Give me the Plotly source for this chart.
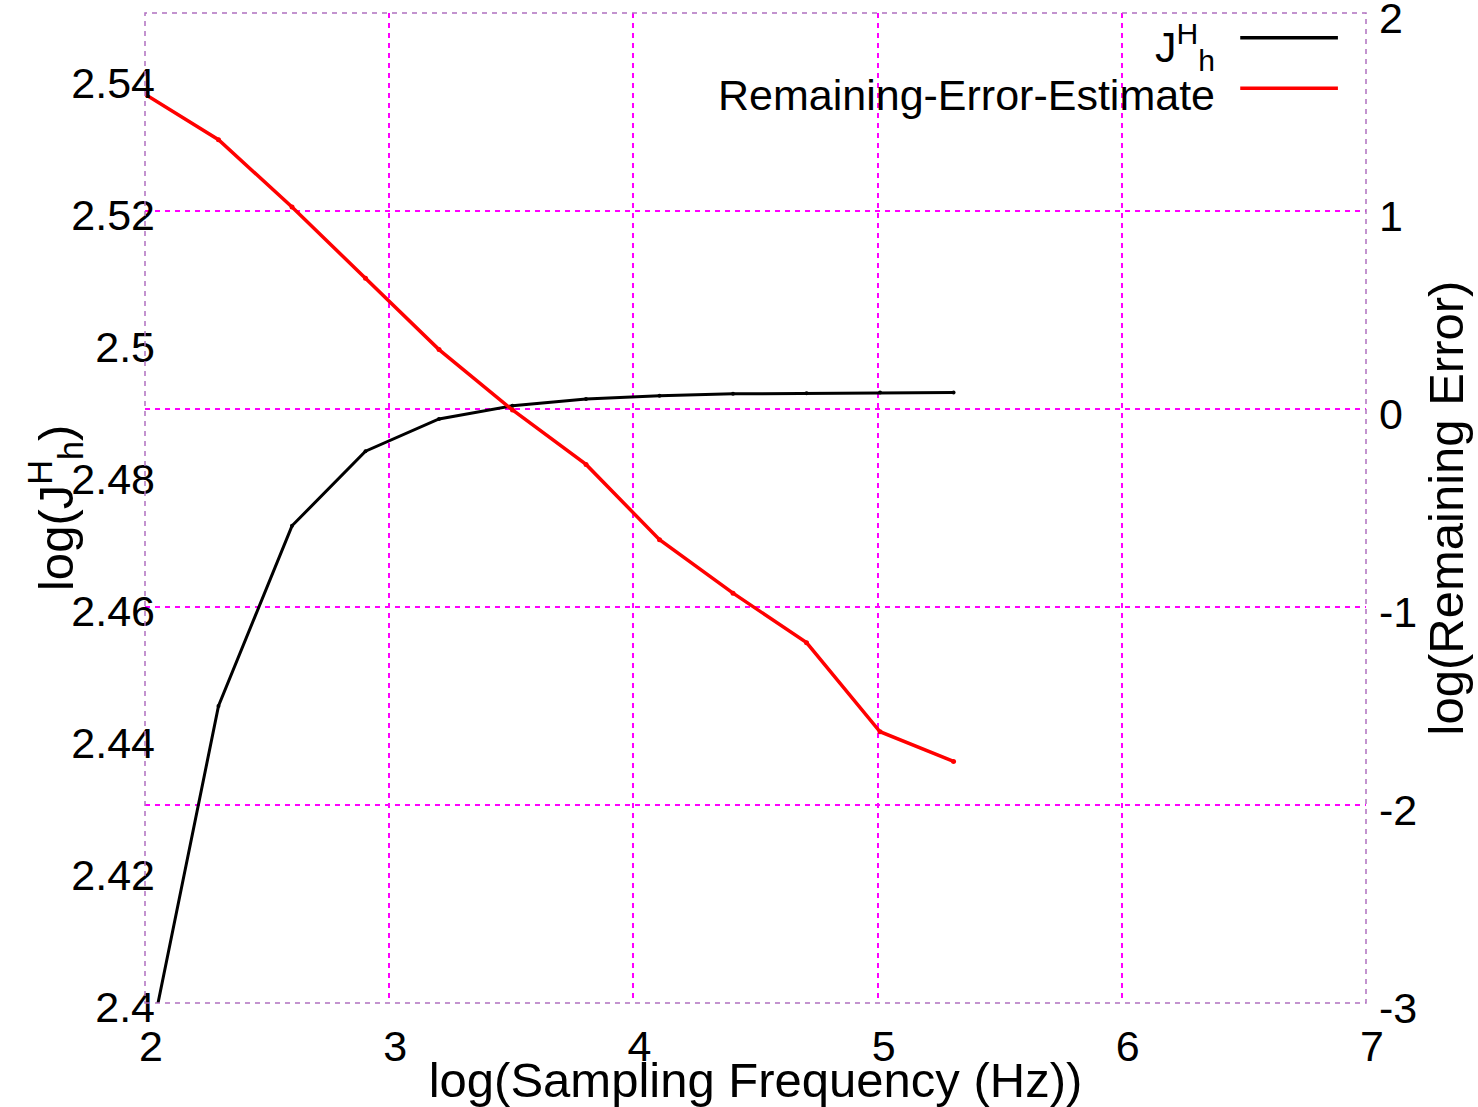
import plotly.graph_objects as go

# Data
log_freq = [2.0, 2.301, 2.602, 2.903, 3.204, 3.505, 3.806, 4.107, 4.408, 4.709, 5.010, 5.311]
log_J = [2.3903, 2.4450, 2.4723, 2.4836, 2.4885, 2.4905, 2.4915, 2.4920, 2.4923, 2.4924, 2.4925, 2.4925]
log_err = [1.59, 1.36, 1.02, 0.66, 0.30, -0.005, -0.28, -0.66, -0.93, -1.18, -1.63, -1.78]

x_ticks = [2, 3, 4, 5, 6, 7]
x_ticklabels = ["2", "3", "4", "5", "6", "7"]
yl_ticks = [2.40, 2.42, 2.44, 2.46, 2.48, 2.50, 2.52, 2.54]
yl_ticklabels = ["2.4", "2.42", "2.44", "2.46", "2.48", "2.5", "2.52", "2.54"]
yr_ticks = [-3, -2, -1, 0, 1, 2]
yr_ticklabels = ["-3", "-2", "-1", "0", "1", "2"]

FONT = "Liberation Sans, Arial, sans-serif"
FS = 43
FT = 49
GRID = "#ff00ff"

fig = go.Figure()
fig.add_trace(go.Scatter(x=log_freq, y=log_J, mode="lines+markers",
                         line=dict(color="black", width=3),
                         marker=dict(color="black", size=4),
                         name="J<sup>H</sup><sub>h</sub>", yaxis="y", showlegend=False))
fig.add_trace(go.Scatter(x=log_freq, y=log_err, mode="lines+markers",
                         line=dict(color="#ff0000", width=3.5),
                         marker=dict(color="#ff0000", size=5),
                         name="Remaining-Error-Estimate", yaxis="y2", showlegend=False))

fig.update_layout(
    width=1478, height=1107,
    margin=dict(l=145, r=112, t=13, b=104, autoexpand=False),
    paper_bgcolor="white", plot_bgcolor="white",
    font=dict(family=FONT, size=FS, color="black"),
    xaxis=dict(range=[2, 7], tickvals=x_ticks, ticktext=x_ticklabels,
               showgrid=True, gridcolor=GRID, griddash="5px,5px", gridwidth=1.5,
               zeroline=False, showline=False, ticks="", automargin=False,
               ticklabelshift=6, ticklabelstandoff=14,
               title=dict(text="log(Sampling Frequency (Hz))", standoff=0,
                          font=dict(size=FT))),
    yaxis=dict(range=[2.4, 2.55], tickvals=yl_ticks, ticktext=yl_ticklabels,
               showgrid=False, zeroline=False, showline=False, ticks="", automargin=False,
               ticklabelstandoff=-11, ticklabelshift=4),
    yaxis2=dict(range=[-3, 2], tickvals=yr_ticks, ticktext=yr_ticklabels,
                overlaying="y", side="right", automargin=False,
                showgrid=True, gridcolor=GRID, griddash="5px,5px", gridwidth=1.5,
                zeroline=False, showline=False, ticks="",
                ticklabelstandoff=12, ticklabelshift=5, ticklabeloverflow="allow",
                title=dict(text="log(Remaining Error)", standoff=12,
                           font=dict(size=FT))),
)

# left axis title
fig.add_annotation(xref="paper", yref="paper", x=-0.0737, y=0.5, xanchor="center", yanchor="middle",
                   text="log(J<sup>H</sup><sub>h</sub>)", textangle=-90, showarrow=False,
                   font=dict(size=FT))

# plot frame (dashed)
fig.add_shape(type="rect", xref="paper", yref="paper", x0=0, y0=0, x1=1, y1=1,
              line=dict(color="#b070c0", width=1.5, dash="5px,5px"), layer="above")

# legend (text right-aligned, sample line on the right)
fig.add_shape(type="line", xref="paper", yref="paper", x0=0.897, x1=0.977, y0=0.975, y1=0.975,
              line=dict(color="black", width=3.5))
fig.add_shape(type="line", xref="paper", yref="paper", x0=0.897, x1=0.977, y0=0.924, y1=0.924,
              line=dict(color="#ff0000", width=3.5))
fig.add_annotation(xref="paper", yref="paper", x=0.878, y=0.966, xanchor="right", yanchor="middle",
                   text="J<sup>H</sup><sub>h</sub>", showarrow=False, font=dict(size=FS))
fig.add_annotation(xref="paper", yref="paper", x=0.878, y=0.917, xanchor="right", yanchor="middle",
                   text="Remaining-Error-Estimate", showarrow=False, font=dict(size=FS))

fig.write_html("out.html")
